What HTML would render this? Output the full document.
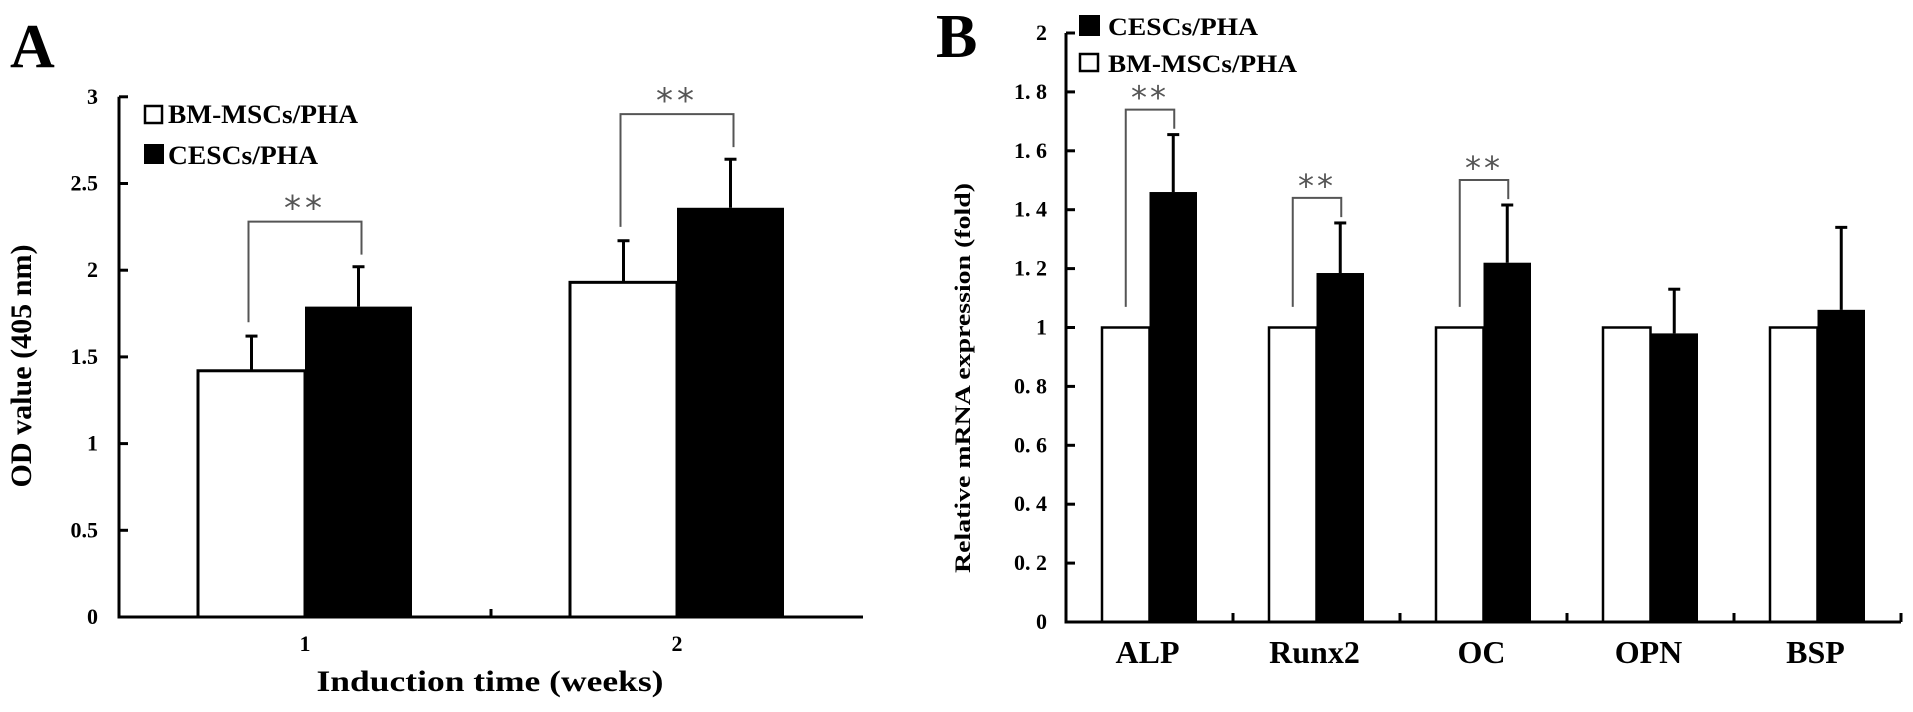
<!DOCTYPE html>
<html><head><meta charset="utf-8"><style>
html,body{margin:0;padding:0;background:#fff;}
svg{display:block;font-family:"Liberation Serif",serif;font-weight:bold;}
</style></head><body>
<svg id="fig" width="1913" height="712" viewBox="0 0 1913 712">
<text x="10" y="67" font-size="62">A</text>
<text x="936" y="57" font-size="62">B</text>
<g id="ga"></g>
<g id="gb"></g>
</svg>
<script>
// Panel A data
const aCategories = ["1", "2"];
const aWhite = [1.42, 1.93];
const aWhiteErr = [1.62, 2.17];
const aBlack = [1.79, 2.36];
const aBlackErr = [2.02, 2.64];
const aTicks = ["0", "0.5", "1", "1.5", "2", "2.5", "3"];
const aTickVals = [0, 0.5, 1, 1.5, 2, 2.5, 3];
// Panel B data
const bCategories = ["ALP", "Runx2", "OC", "OPN", "BSP"];
const bWhite = [1, 1, 1, 1, 1];
const bBlack = [1.46, 1.185, 1.22, 0.98, 1.06];
const bBlackErr = [1.655, 1.355, 1.416, 1.13, 1.34];
const bSig = [true, true, true, false, false];
const bTicks = ["0", "0. 2", "0. 4", "0. 6", "0. 8", "1", "1. 2", "1. 4", "1. 6", "1. 8", "2"];
const bTickVals = [0, 0.2, 0.4, 0.6, 0.8, 1, 1.2, 1.4, 1.6, 1.8, 2];

const NS = "http://www.w3.org/2000/svg";
function mk(parent, tag, attrs, txt) {
  const e = document.createElementNS(NS, tag);
  for (const k in attrs) e.setAttribute(k, attrs[k]);
  if (txt !== undefined) e.textContent = txt;
  parent.appendChild(e);
  return e;
}

// ---------- Panel A ----------
const ga = document.getElementById("ga");
const aX0 = 119, aY0 = 617, aPxPerUnit = 173.4, aCatW = 372, aBarW = 107;
const ay = v => aY0 - v * aPxPerUnit;
const ax = i => aX0 + aCatW / 2 + i * aCatW;

aWhite.forEach((v, i) => {
  const c = ax(i);
  const wc = c - aBarW / 2;
  let w = mk(ga, "line", {x1: wc, y1: ay(v), x2: wc, y2: ay(aWhiteErr[i]), stroke: "#000", "stroke-width": 3});
  
  
  let r = mk(ga, "rect", {x: c - aBarW, y: ay(v), width: aBarW, height: aY0 - ay(v), fill: "#fff", stroke: "#000", "stroke-width": 3});
  
  
  let cap = mk(ga, "line", {x1: wc - 6, x2: wc + 6, y1: ay(aWhiteErr[i]), y2: ay(aWhiteErr[i]), stroke: "#000", "stroke-width": 3});
  
  
  let b = mk(ga, "rect", {x: c, y: ay(aBlack[i]), width: aBarW, height: aY0 - ay(aBlack[i]), fill: "#000"});
  
  
  const bc = c + aBarW / 2;
  let be = mk(ga, "line", {x1: bc, x2: bc, y1: ay(aBlack[i]), y2: ay(aBlackErr[i]), stroke: "#000", "stroke-width": 3});
  
  
  let bcap = mk(ga, "line", {x1: bc - 6, x2: bc + 6, y1: ay(aBlackErr[i]), y2: ay(aBlackErr[i]), stroke: "#000", "stroke-width": 3});
  
  
  const top = ay(Math.max(aWhiteErr[i], aBlackErr[i]) + 0.26);
  const lx = wc - 3, rx = bc + 3;
  let br = mk(ga, "polyline", {points: `${lx},${ay(aWhiteErr[i] + 0.08)} ${lx},${top} ${rx},${top} ${rx},${ay(aBlackErr[i] + 0.07)}`, fill: "none", stroke: "#555", "stroke-width": 2});
  
  
  let st = mk(ga, "text", {x: (lx + rx) / 2, y: top - 2, "text-anchor": "middle", "font-size": 34, fill: "#555", "font-weight": "normal", "letter-spacing": 4, "font-family": "DejaVu Sans, sans-serif"}, "**");
  
  
  let cl = mk(ga, "text", {x: c, y: 651, "text-anchor": "middle", "font-size": 22}, aCategories[i]);
  
  
});
let aAxes = mk(ga, "path", {d: `M${aX0},${ay(3)} V${aY0} H${aX0 + aCatW * 2}`, fill: "none", stroke: "#000", "stroke-width": 3});


aTickVals.forEach((v, i) => {
  if (v > 0) mk(ga, "line", {x1: aX0, x2: aX0 + 9, y1: ay(v), y2: ay(v), stroke: "#000", "stroke-width": 3});
  let t = mk(ga, "text", {x: 98, y: ay(v) + 7, "text-anchor": "end", "font-size": 22}, aTicks[i]);
  
  
});
mk(ga, "line", {x1: aX0 + aCatW, x2: aX0 + aCatW, y1: aY0, y2: aY0 - 8, stroke: "#000", "stroke-width": 3});
let aYT = mk(ga, "text", {transform: "translate(31,366) rotate(-90)", "text-anchor": "middle", "font-size": 30, textLength: 243, lengthAdjust: "spacingAndGlyphs"}, "OD value (405 nm)");


let aXT = mk(ga, "text", {x: 490, y: 691, "text-anchor": "middle", "font-size": 30, textLength: 347, lengthAdjust: "spacingAndGlyphs"}, "Induction time (weeks)");


let la1 = mk(ga, "rect", {x: 145, y: 106, width: 17, height: 17, fill: "#fff", stroke: "#000", "stroke-width": 2.5});


let lt1 = mk(ga, "text", {x: 168, y: 123, "font-size": 26, textLength: 190, lengthAdjust: "spacingAndGlyphs"}, "BM-MSCs/PHA");


let la2 = mk(ga, "rect", {x: 144, y: 144, width: 20, height: 20, fill: "#000"});


let lt2 = mk(ga, "text", {x: 168, y: 164, "font-size": 26, textLength: 150, lengthAdjust: "spacingAndGlyphs"}, "CESCs/PHA");



// ---------- Panel B ----------
const gb = document.getElementById("gb");
const bX0 = 1066, bY0 = 622, bPxPerUnit = 294.5, bCatW = 167, bBarW = 47.5, bOff = 36;
const by = v => bY0 - v * bPxPerUnit;
const bx = i => bX0 + i * bCatW + bOff;

bCategories.forEach((name, i) => {
  const x = bx(i);
  let w = mk(gb, "rect", {x: x, y: by(bWhite[i]), width: bBarW, height: bY0 - by(bWhite[i]), fill: "#fff", stroke: "#000", "stroke-width": 2.5});
  
  
  let b = mk(gb, "rect", {x: x + bBarW, y: by(bBlack[i]), width: bBarW, height: bY0 - by(bBlack[i]), fill: "#000"});
  
  
  const bc = x + bBarW * 1.5;
  let e = mk(gb, "line", {x1: bc, x2: bc, y1: by(bBlack[i]), y2: by(bBlackErr[i]), stroke: "#000", "stroke-width": 3});
  
  
  let cap = mk(gb, "line", {x1: bc - 6, x2: bc + 6, y1: by(bBlackErr[i]), y2: by(bBlackErr[i]), stroke: "#000", "stroke-width": 3});
  
  
  if (bSig[i]) {
    const top = by(bBlackErr[i] + 0.085);
    const lx = x + bBarW / 2, rx = bc + 1;
    let br = mk(gb, "polyline", {points: `${lx},${by(bWhite[i] + 0.07)} ${lx},${top} ${rx},${top} ${rx},${by(bBlackErr[i] + 0.02)}`, fill: "none", stroke: "#555", "stroke-width": 2});
    
    
    let st = mk(gb, "text", {x: (lx + rx) / 2, y: top - 1, "text-anchor": "middle", "font-size": 32, fill: "#555", "font-weight": "normal", "letter-spacing": 3, "font-family": "DejaVu Sans, sans-serif"}, "**");
    
    
  }
  let cl = mk(gb, "text", {x: bX0 + i * bCatW + bCatW / 2 - 2, y: 663, "text-anchor": "middle", "font-size": 32}, name);
  
  
  mk(gb, "line", {x1: bX0 + (i + 1) * bCatW, x2: bX0 + (i + 1) * bCatW, y1: bY0, y2: bY0 - 9, stroke: "#000", "stroke-width": 3});
});
let bAxes = mk(gb, "path", {d: `M${bX0},${by(2)} V${bY0} H${bX0 + bCatW * 5}`, fill: "none", stroke: "#000", "stroke-width": 3});


bTickVals.forEach((v, i) => {
  if (v > 0) mk(gb, "line", {x1: bX0, x2: bX0 + 9, y1: by(v), y2: by(v), stroke: "#000", "stroke-width": 3});
  let t = mk(gb, "text", {x: 1047, y: by(v) + 7, "text-anchor": "end", "font-size": 22}, bTicks[i]);
  
  
});
let bYT = mk(gb, "text", {transform: "translate(970,378) rotate(-90)", "text-anchor": "middle", "font-size": 22, textLength: 390, lengthAdjust: "spacingAndGlyphs"}, "Relative mRNA expression (fold)");


let lb1 = mk(gb, "rect", {x: 1079, y: 15, width: 21, height: 21, fill: "#000"});


let lbt1 = mk(gb, "text", {x: 1108, y: 35, "font-size": 25, textLength: 150, lengthAdjust: "spacingAndGlyphs"}, "CESCs/PHA");


let lb2 = mk(gb, "rect", {x: 1080, y: 54, width: 18, height: 17, fill: "#fff", stroke: "#000", "stroke-width": 2.5});


let lbt2 = mk(gb, "text", {x: 1108, y: 72, "font-size": 25, textLength: 189, lengthAdjust: "spacingAndGlyphs"}, "BM-MSCs/PHA");


</script>
</body></html>
